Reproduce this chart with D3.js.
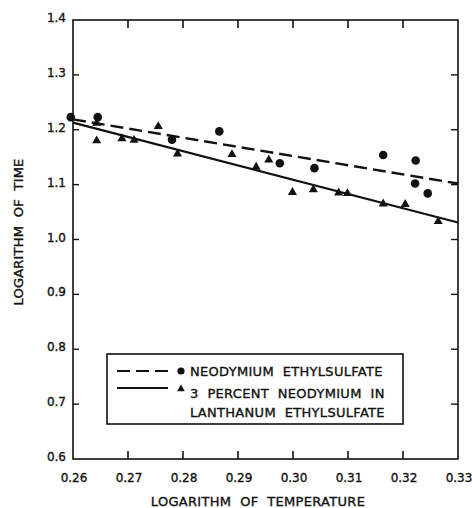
<!DOCTYPE html>
<html lang="en">
	<head>
		<meta charset="utf-8">
		<title>log time vs log temperature</title>
		<script src="https://cdn.jsdelivr.net/npm/d3@7"></script>
		<style type="text/css">
			body { margin: 0; background: white; }
			text { font-family: "DejaVu Sans", sans-serif; fill: #111; stroke: #111; stroke-width: 0.35; white-space: pre; }
		</style>
	</head>
	<body>

		<script type="text/javascript" charset="utf-8">

		//data
		var xTicks = [0.26, 0.27, 0.28, 0.29, 0.30, 0.31, 0.32, 0.33]
		var xTickLabels = ["0.26", "0.27", "0.28", "0.29", "0.30", "0.31", "0.32", "0.33"]
		var yTicks = [0.6, 0.7, 0.8, 0.9, 1.0, 1.1, 1.2, 1.3, 1.4]
		var yTickLabels = ["0.6", "0.7", "0.8", "0.9", "1.0", "1.1", "1.2", "1.3", "1.4"]

		// circles = neodymium ethylsulfate
		var neodymium = [[0.2596,1.223],[0.2645,1.223],[0.278,1.182],[0.2866,1.197],[0.2976,1.139],
			[0.3039,1.130],[0.3164,1.154],[0.3223,1.144],[0.3222,1.102],[0.3245,1.084]]
		// triangles = 3 percent neodymium in lanthanum ethylsulfate
		var dilute = [[0.2643,1.212],[0.2643,1.180],[0.2689,1.184],[0.2711,1.181],[0.2755,1.206],
			[0.279,1.156],[0.2889,1.155],[0.2933,1.132],[0.2956,1.145],[0.2999,1.086],[0.3037,1.091],
			[0.3083,1.085],[0.3099,1.084],[0.3164,1.065],[0.3204,1.064],[0.3264,1.033]]

		// fitted lines
		var dashedFit = [[0.26,1.219],[0.33,1.102]]
		var solidFit = [[0.26,1.213],[0.33,1.031]]

		var legendLabels = ["NEODYMIUM  ETHYLSULFATE", "3  PERCENT  NEODYMIUM  IN", "LANTHANUM  ETHYLSULFATE"]

		var canvas = d3.select("body").append('svg').attr('width',472).attr('height',508)

		var x = d3.scaleLinear().domain([0.26,0.33]).range([73,458])
		var y = d3.scaleLinear().domain([0.6,1.4]).range([459,20])

		//////////////////////////////////////////////////////////////////////////
		/////////////////////////// FRAME AND TICKS //////////////////////////////
		//////////////////////////////////////////////////////////////////////////
		canvas.append('rect')
			.attr('x',x(0.26))
			.attr('y',y(1.4))
			.attr('width',x(0.33)-x(0.26))
			.attr('height',y(0.6)-y(1.4))
			.attr('fill','none')
			.attr('stroke','#111')
			.attr('stroke-width',1.6)

		var inner = xTicks.slice(1,-1)

		// x ticks, bottom and top, pointing in
		canvas.append('g').selectAll('line').data(inner).enter().append('line')
			.attr('x1',function(d){return x(d)}).attr('x2',function(d){return x(d)})
			.attr('y1',y(0.6)).attr('y2',y(0.6)-8)
			.attr('stroke','#111').attr('stroke-width',1.6)
		canvas.append('g').selectAll('line').data(inner).enter().append('line')
			.attr('x1',function(d){return x(d)}).attr('x2',function(d){return x(d)})
			.attr('y1',y(1.4)).attr('y2',y(1.4)+8)
			.attr('stroke','#111').attr('stroke-width',1.6)

		var innerY = yTicks.slice(1,-1)
		canvas.append('g').selectAll('line').data(innerY).enter().append('line')
			.attr('x1',x(0.26)).attr('x2',x(0.26)+6)
			.attr('y1',function(d){return y(d)}).attr('y2',function(d){return y(d)})
			.attr('stroke','#111').attr('stroke-width',1.4)
		canvas.append('g').selectAll('line').data(innerY).enter().append('line')
			.attr('x1',x(0.33)).attr('x2',x(0.33)-7)
			.attr('y1',function(d){return y(d)}).attr('y2',function(d){return y(d)})
			.attr('stroke','#111').attr('stroke-width',1.4)

		// tick labels
		canvas.append('g').selectAll('text').data(xTicks).enter().append('text')
			.attr('x',function(d){return x(d)+1})
			.attr('y',482)
			.attr('text-anchor','middle')
			.attr('font-size',12)
			.text(function(d,i){return xTickLabels[i]})

		canvas.append('g').selectAll('text').data(yTicks).enter().append('text')
			.attr('x',66)
			.attr('y',function(d){return y(d)+2})
			.attr('text-anchor','end')
			.attr('font-size',12)
			.text(function(d,i){return yTickLabels[i]})

		// axis titles
		canvas.append('text')
			.attr('x',258)
			.attr('y',506)
			.attr('text-anchor','middle')
			.attr('font-size',13)
			.attr('letter-spacing',0.3)
			.text('LOGARITHM  OF  TEMPERATURE')

		canvas.append('text')
			.attr('transform','translate(23,232) rotate(-90)')
			.attr('text-anchor','middle')
			.attr('font-size',13)
			.attr('letter-spacing',0.2)
			.text('LOGARITHM  OF  TIME')

		//////////////////////////////////////////////////////////////////////////
		//////////////////////////// LINES AND POINTS ////////////////////////////
		//////////////////////////////////////////////////////////////////////////
		var line = d3.line().x(function(d){return x(d[0])}).y(function(d){return y(d[1])})

		canvas.append('path')
			.attr('d',line(dashedFit))
			.attr('fill','none')
			.attr('stroke','#111')
			.attr('stroke-width',2.4)
			.attr('stroke-dasharray','13,6')

		canvas.append('path')
			.attr('d',line(solidFit))
			.attr('fill','none')
			.attr('stroke','#111')
			.attr('stroke-width',2.2)

		var tri = d3.symbol().type(d3.symbolTriangle).size(36)

		canvas.append('g').selectAll('path').data(dilute).enter().append('path')
			.attr('d',tri)
			.attr('transform',function(d){return 'translate('+x(d[0])+','+y(d[1])+')'})
			.attr('fill','#111')

		canvas.append('g').selectAll('circle').data(neodymium).enter().append('circle')
			.attr('cx',function(d){return x(d[0])})
			.attr('cy',function(d){return y(d[1])})
			.attr('r',4.3)
			.attr('fill','#111')

		//////////////////////////////////////////////////////////////////////////
		//////////////////////////////// LEGEND //////////////////////////////////
		//////////////////////////////////////////////////////////////////////////
		var legend = canvas.append('g')

		legend.append('rect')
			.attr('x',107)
			.attr('y',354)
			.attr('width',296)
			.attr('height',70)
			.attr('fill','white')
			.attr('stroke','#111')
			.attr('stroke-width',1.6)

		legend.append('line')
			.attr('x1',117).attr('x2',168)
			.attr('y1',371).attr('y2',371)
			.attr('stroke','#111').attr('stroke-width',2.2)
			.attr('stroke-dasharray','13,6')

		legend.append('line')
			.attr('x1',117).attr('x2',168)
			.attr('y1',388).attr('y2',388)
			.attr('stroke','#111').attr('stroke-width',2)

		legend.append('circle')
			.attr('cx',181).attr('cy',371).attr('r',3.6)
			.attr('fill','#111')

		legend.append('path')
			.attr('d',d3.symbol().type(d3.symbolTriangle).size(26))
			.attr('transform','translate(181,389)')
			.attr('fill','#111')

		legend.selectAll('text.lab').data(legendLabels).enter().append('text')
			.attr('class','lab')
			.attr('x',190)
			.attr('y',function(d,i){return [376,398,417][i]})
			.attr('font-size',13)
			.attr('letter-spacing',0.3)
			.text(function(d){return d})

		</script>
	</body>

</html>
